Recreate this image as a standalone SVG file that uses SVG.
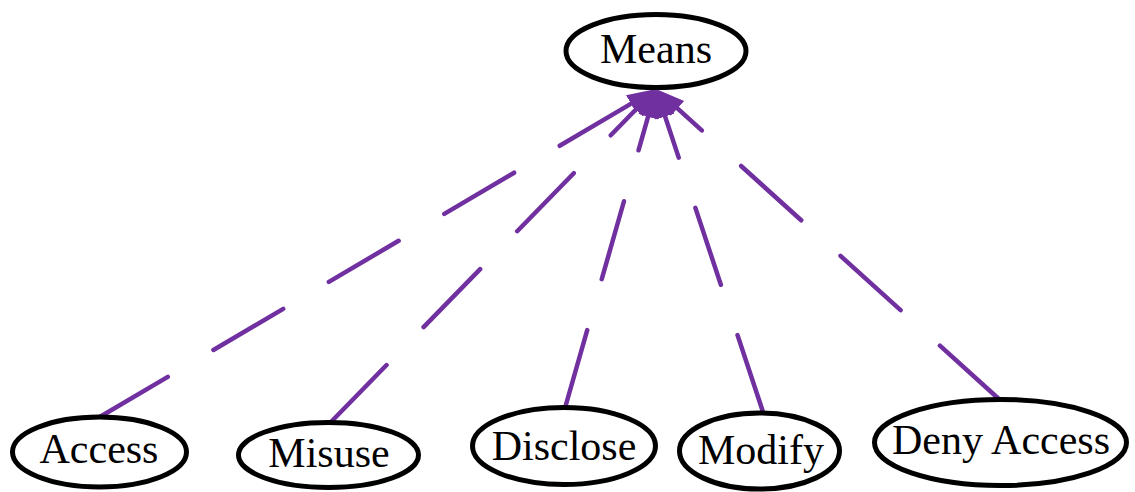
<svg xmlns="http://www.w3.org/2000/svg" width="1135" height="492" viewBox="0 0 1135 492">
  <defs>
    <style>
      .node ellipse { fill: #ffffff; stroke: #000000; stroke-width: 5; }
      .node text { font-family: "Liberation Serif", "Times New Roman", serif; font-size: 42px; fill: #000000; text-anchor: middle; }
      .edge { fill: none; stroke: #7030A0; stroke-width: 4.5; stroke-linecap: round; stroke-dasharray: 81 53; marker-end: url(#head); }
    </style>
    <marker id="head" markerUnits="userSpaceOnUse" markerWidth="32" markerHeight="24" viewBox="0 -12 32 24" refX="9" refY="0" orient="auto">
      <path d="M0,-10 L29,0 L0,10 z" fill="#7030A0"/>
    </marker>
  </defs>

  <rect width="1135" height="492" fill="#ffffff"/>

  <!-- connectors: each child points up to Means -->
  <g id="connectors">
    <path class="edge" d="M98,418 L638.8,99.2"/>
    <path class="edge" d="M330,423 L642,103.3"/>
    <path class="edge" d="M565,408 L650.5,108.2"/>
    <path class="edge" d="M763,412 L662.3,108"/>
    <path class="edge" d="M1000,400 L670.8,102.4"/>
  </g>

  <g id="means" class="node">
    <ellipse cx="656" cy="51" rx="90" ry="36.5"/>
    <text x="656" y="63">Means</text>
  </g>
  <g id="access" class="node">
    <ellipse cx="99.5" cy="452" rx="87" ry="35"/>
    <text x="99" y="463">Access</text>
  </g>
  <g id="misuse" class="node">
    <ellipse cx="328.5" cy="455" rx="90" ry="32.5"/>
    <text x="329" y="467">Misuse</text>
  </g>
  <g id="disclose" class="node">
    <ellipse cx="564" cy="446" rx="91.5" ry="38.5"/>
    <text x="564" y="460">Disclose</text>
  </g>
  <g id="modify" class="node">
    <ellipse cx="759.5" cy="451" rx="80" ry="38"/>
    <text x="761" y="464">Modify</text>
  </g>
  <g id="deny-access" class="node">
    <ellipse cx="1000.5" cy="442.5" rx="126" ry="43"/>
    <text x="1001" y="454">Deny Access</text>
  </g>
</svg>
